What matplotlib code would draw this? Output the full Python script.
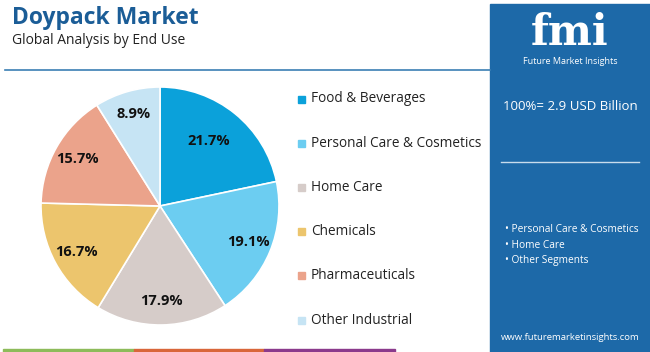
import matplotlib.pyplot as plt
import matplotlib.patches as mpatches

categories = ['Food & Beverages', 'Personal Care & Cosmetics', 'Home Care',
              'Chemicals', 'Pharmaceuticals', 'Other Industrial']
shares = [21.7, 19.1, 17.9, 16.7, 15.7, 8.9]
colors = ['#0ba1da', '#6ccdf1', '#d6ccc9', '#ecc56d', '#eba38b', '#c6e4f4']
bullets = ['Personal Care & Cosmetics', 'Home Care', 'Other Segments']
strip_colors = ['#8dbb5a', '#d9663a', '#8b3a8c']

plt.rcParams['font.family'] = ['Open Sans', 'DejaVu Sans']
W, H = 650, 352
fig = plt.figure(figsize=(6.5, 3.52), dpi=100)
bg = fig.add_axes([0, 0, 1, 1])
bg.set_xlim(0, W)
bg.set_ylim(H, 0)
bg.axis('off')

# header
bg.text(12, 18, 'Doypack Market', fontsize=16.5, fontweight='bold', color='#1b5d97', va='center')
bg.text(12, 40, 'Global Analysis by End Use', fontsize=10, color='#222222', va='center')
bg.plot([5, 490], [70, 70], color='#3b7fb4', lw=1.2)

# right panel
bg.add_patch(mpatches.Rectangle((490, 4), 160, 348, color='#1d69a8'))
bg.text(570, 33, 'fmi', fontsize=30, fontweight='bold', color='white', ha='center', va='center',
        family='DejaVu Serif')
bg.text(570, 62, 'Future Market Insights', fontsize=6.5, color='white', ha='center', va='center')
bg.text(570, 107, '100%= 2.9 USD Billion', fontsize=9.5, color='white', ha='center', va='center')
bg.plot([501, 639], [162, 162], color='#c8dcec', lw=1)
for i, b in enumerate(bullets):
    bg.text(505, 230 + i * 15.5 - (1 if i == 2 else 0), '\u2022 ' + b, fontsize=7.3, color='white', va='center')
bg.text(570, 337, 'www.futuremarketinsights.com', fontsize=6.8, color='white', ha='center', va='center')

# bottom strip
for i, c in enumerate(strip_colors):
    bg.add_patch(mpatches.Rectangle((3 + i * 130.7, 348.5), 130.7, 3.5, color=c))

# legend
for i, (cat, c) in enumerate(zip(categories, colors)):
    y = 99 + i * 44.2
    bg.add_patch(mpatches.Rectangle((298, y - 3.5), 7, 7, color=c))
    bg.text(311, y, cat, fontsize=9.8, color='#222222', va='center')

# pie
cx, cy, r = 160, 206, 119
ax = fig.add_axes([(cx - r) / W, 1 - (cy + r) / H, 2 * r / W, 2 * r / H])
wedges, texts, autotexts = ax.pie(shares, colors=colors, startangle=90, counterclock=False,
                                  autopct='%.1f%%', pctdistance=0.8,
                                  wedgeprops=dict(edgecolor='white', linewidth=1.2))
for t in autotexts:
    t.set_fontsize(10.5)
    t.set_fontweight('bold')
    t.set_color('#111111')
# the biggest slice's label sits closer to the centre
x0, y0 = autotexts[0].get_position()
autotexts[0].set_position((x0 * 0.82, y0 * 0.88))
ax.set_xlim(-1, 1)
ax.set_ylim(-1, 1)
ax.set_aspect('equal')

fig.savefig('out.png', dpi=100)
